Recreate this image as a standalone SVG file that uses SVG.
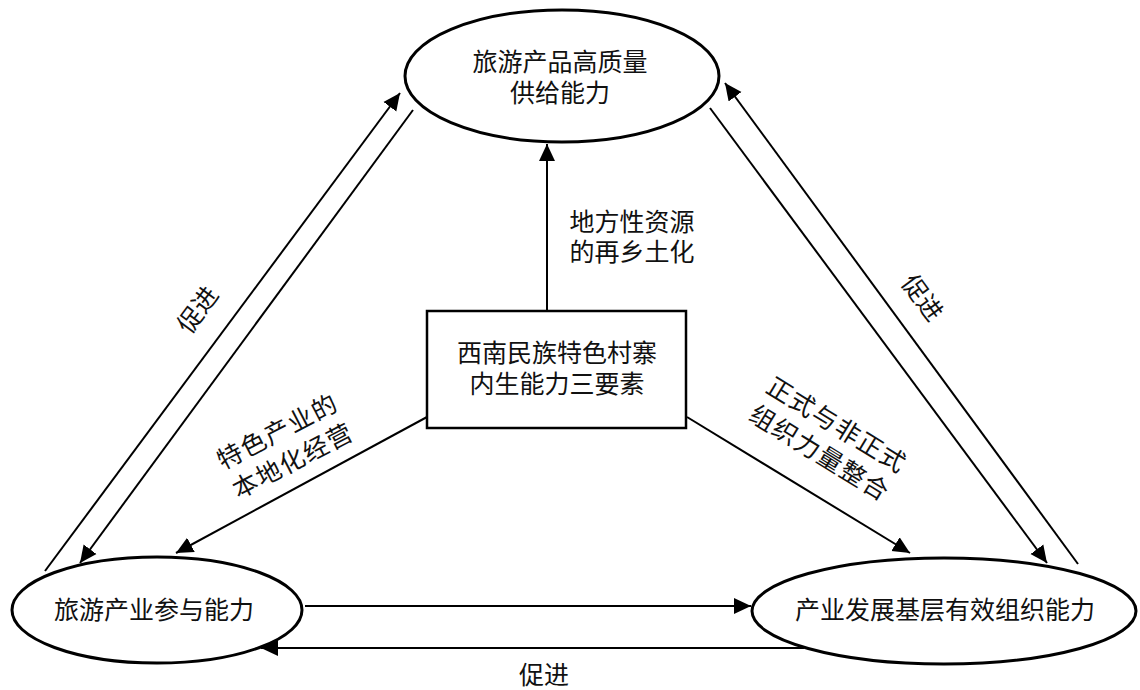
<svg xmlns="http://www.w3.org/2000/svg" width="1140" height="690" viewBox="0 0 1140 690">
<style>
.node{fill:#fff;stroke:#000;stroke-width:3}
.box{fill:#fff;stroke:#000;stroke-width:2.5}
.t{font-family:"Liberation Serif","Noto Sans CJK SC",serif;font-size:25px;fill:#111;text-anchor:middle;dominant-baseline:central}
.c{stroke:#000;stroke-width:2;fill:none;marker-end:url(#ah)}
.p{stroke:#000;stroke-width:2;fill:none}
</style>
<defs>
<marker id="ah" markerUnits="userSpaceOnUse" markerWidth="18" markerHeight="18" refX="17" refY="8" orient="auto" viewBox="0 0 18 16">
<path d="M0,0 L17,8 L0,16 z" fill="#000"/>
</marker>
</defs>
<rect width="1140" height="690" fill="#fff"/>
<g id="connectors">
<line class="c" x1="547" y1="311" x2="547" y2="144"/>
<line class="c" x1="45" y1="571" x2="400" y2="93"/>
<line class="c" x1="413" y1="110" x2="80" y2="563"/>
<line class="c" x1="1078" y1="564" x2="725" y2="83"/>
<line class="c" x1="710" y1="108" x2="1047" y2="563"/>
<line class="c" x1="427" y1="417" x2="176" y2="553"/>
<line class="c" x1="687" y1="417" x2="910" y2="553"/>
<line class="c" x1="305" y1="606" x2="751" y2="606"/>
<line class="c" x1="804" y1="648" x2="261" y2="648"/>
<text class="t" x="632" y="222">地方性资源</text>
<text class="t" x="632" y="252">的再乡土化</text>
<g transform="translate(285.5,446.5) rotate(-27.5)">
<text class="t" x="0" y="-16.5" letter-spacing="1.5">特色产业的</text>
<text class="t" x="0" y="16.5" letter-spacing="1.5">本地化经营</text>
</g>
<g transform="translate(828,439.5) rotate(31.5)">
<text class="t" x="0" y="-16.5" letter-spacing="1.5">正式与非正式</text>
<text class="t" x="0" y="16.5" letter-spacing="1.5">组织力量整合</text>
</g>
<text class="t" transform="translate(198,310) rotate(-53.4)" x="0" y="0">促进</text>
<text class="t" transform="translate(922,298) rotate(53.7)" x="0" y="0">促进</text>
<text class="t" x="544" y="675">促进</text>
</g>
<g id="top">
<ellipse class="node" cx="562" cy="76" rx="157" ry="66"/>
<text class="t" x="560" y="62">旅游产品高质量</text>
<text class="t" x="560" y="93">供给能力</text>
</g>
<g id="left">
<ellipse class="node" cx="157" cy="610" rx="145" ry="53"/>
<text class="t" x="154" y="610">旅游产业参与能力</text>
</g>
<g id="right">
<ellipse class="node" cx="944" cy="611" rx="192" ry="53"/>
<text class="t" x="945" y="610">产业发展基层有效组织能力</text>
</g>
<g id="center">
<rect class="box" x="427" y="311" width="259" height="117"/>
<text class="t" x="557" y="353">西南民族特色村寨</text>
<text class="t" x="557" y="384">内生能力三要素</text>
</g>
</svg>
